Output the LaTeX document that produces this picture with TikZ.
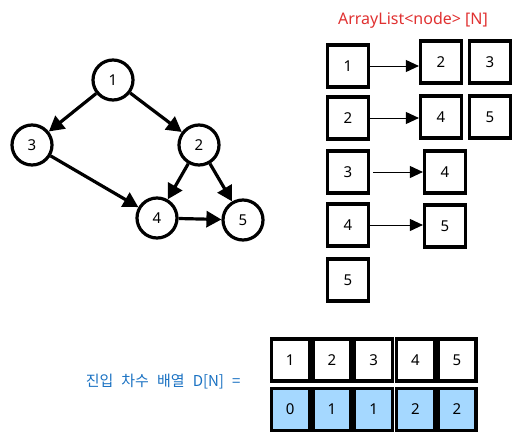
\documentclass[tikz,border=0pt]{standalone}
\usepackage{fontspec}
\setmainfont{Noto Sans}
\newfontfamily\krfont[WordSpace=2.4]{Noto Sans CJK KR}
\usetikzlibrary{positioning,arrows.meta}
\definecolor{listred}{HTML}{E03131}
\definecolor{degblue}{HTML}{1971C2}
\definecolor{degfill}{HTML}{A5D8FF}
\tikzset{
  vtx/.style={circle, draw, line width=3.2pt, minimum size=40pt, inner sep=0pt,
              font=\fontsize{15}{17}\selectfont},
  cell/.style={draw, line width=3.2pt, minimum width=41pt, minimum height=42pt,
              inner sep=0pt, font=\fontsize{15}{17}\selectfont},
  degcell/.style={cell, fill=degfill, minimum width=38pt},
  numcell/.style={cell, minimum width=38pt},
  edge/.style={-{Triangle[length=15pt,width=16pt]}, line width=3.2pt},
  link/.style={-{Triangle[length=13pt,width=12pt]}, line width=0.9pt},
}

\begin{document}
\begin{tikzpicture}[x=1pt, y=-1pt]
\useasboundingbox (0,0) rectangle (521,441);

% graph
\node[vtx] (v1) at (113,80) {1};
\node[vtx] (v3) at (32,145) {3};
\node[vtx] (v2) at (199,145) {2};
\node[vtx] (v4) at (157,218) {4};
\node[vtx] (v5) at (243,220) {5};
\draw[edge] (v1) -- (v3);
\draw[edge] (v1) -- (v2);
\draw[edge] (v3) -- (v4);
\draw[edge] (v2) -- (v4);
\draw[edge] (v2) -- (v5);
\draw[edge] (v4) -- (v5);

% adjacency list
\node[text=listred, font=\fontsize{16}{18}\selectfont] (title) at (413,20) {ArrayList<node> [N]};
\foreach \i/\y in {1/66,2/118,3/172,4/225,5/280}
  \node[cell] (h\i) at (348,\y) {\i};
\node[cell] (a12) at (441,62) {2};
\node[cell] (a13) at (490,62) {3};
\node[cell] (a24) at (441,117) {4};
\node[cell] (a25) at (490,117) {5};
\node[cell] (a34) at (445,172) {4};
\node[cell] (a45) at (445,226) {5};
\draw[link] (h1) -- (h1 -| a12.west);
\draw[link] (h2) -- (h2 -| a24.west);
\draw[link] (h3.east) ++(3,0) coordinate (s3) (s3) -- (s3 -| a34.west);
\draw[link] (h4) -- (h4 -| a45.west);

% in-degree array
\foreach \i/\d in {1/0,2/1,3/1,4/2,5/2} {
  \node[numcell] (n\i) at (248.5+41.7*\i,360) {\i};
  \node[degcell] (d\i) at (248.5+41.7*\i,409.5) {\d};
}
\node[text=degblue, anchor=east, font=\fontsize{15}{17}\selectfont] (deglabel) at (244,382)
  {\krfont 진입 차수 배열 D[N] =};
\end{tikzpicture}
\end{document}
